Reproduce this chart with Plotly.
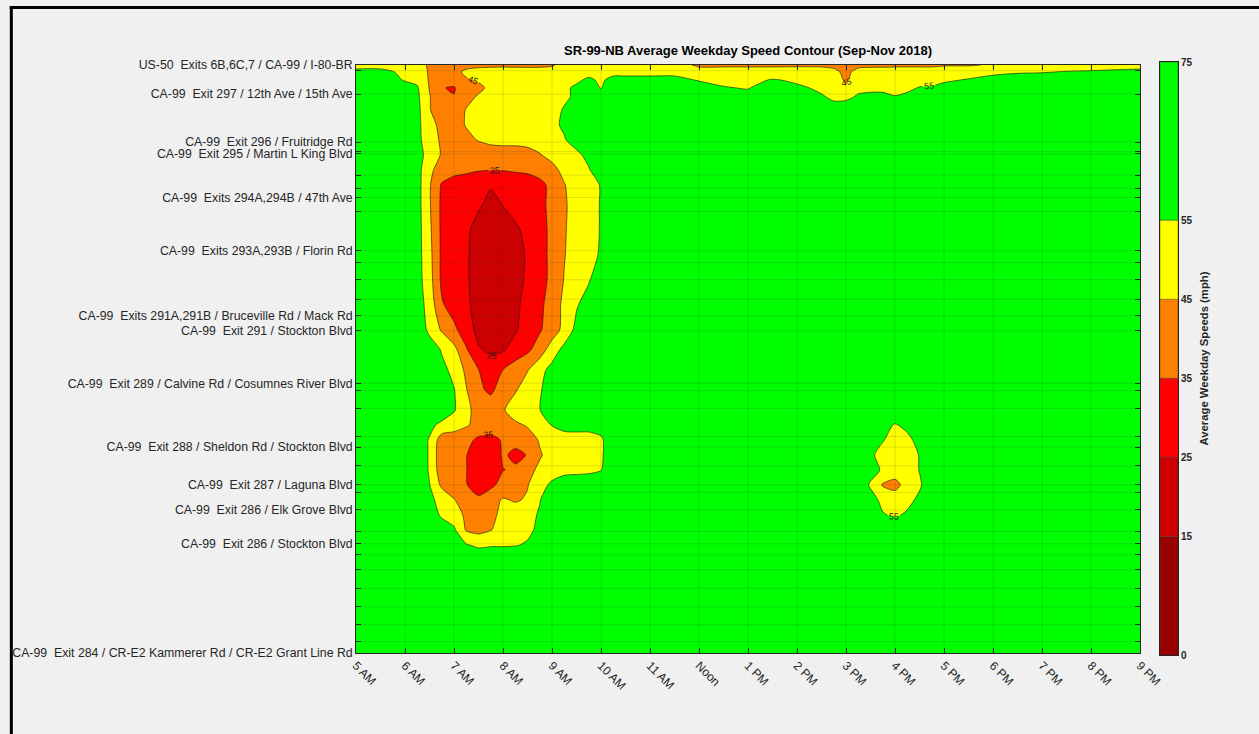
import plotly.graph_objects as go

# ---------------------------------------------------------------------------
# Data
# ---------------------------------------------------------------------------
# Time of day (decimal hours) of each column in the speed grid
hours = [5.0, 5.5, 6.0, 6.25, 6.5, 6.75, 7.0, 7.25, 7.5, 7.75,
         8.0, 8.25, 8.5, 8.75, 9.0, 9.25, 9.5, 9.75, 10.0, 10.25,
         10.5, 11.0, 11.5, 12.0, 12.5, 13.0, 13.5, 14.0, 14.5, 14.75,
         15.0, 15.25, 15.5, 15.75, 16.0, 16.25, 16.5, 16.75, 17.0, 17.5,
         18.0, 18.5, 19.0, 19.5, 20.0, 20.5, 21.0]

# Corridor distance (mi, measured from the south end) of each grid row, north to south
row_miles = [13.36, 13.20, 13.02, 12.84, 12.64, 12.34, 12.00, 11.66, 11.32, 10.98,
             10.64, 10.18, 9.61, 9.05, 8.48, 7.91, 7.34, 6.89, 6.43, 5.98,
             5.52, 5.18, 4.84, 4.50, 4.16, 3.82, 3.48, 3.14, 2.80, 2.45,
             2.11, 1.20, 0.00]

# Average weekday speed (mph); one row per entry of row_miles, one value per entry of hours
speed_mph = [
    [50, 50, 50, 48, 44, 42, 42, 42, 43, 43, 43, 43, 43, 43, 44, 48, 49, 49, 49, 50,
     50, 50, 50, 43, 43, 43, 43, 43, 43, 42, 40, 42, 43, 43, 43, 43, 43, 43, 44, 44,
     46, 49, 50, 51, 51, 51, 51],
    [59, 59, 52, 50, 44, 42, 42, 47, 48, 49, 50, 49, 49, 49, 49, 51, 52, 53, 53, 53,
     53, 53, 53, 50, 50, 50, 50, 51, 50, 48, 42, 49, 49, 49, 50, 50, 50, 50, 51, 52,
     53, 54, 54.5, 55.5, 56, 57, 58],
    [62, 62, 54, 53, 44, 40, 40, 44, 46, 48, 51, 52, 52, 52, 52, 53, 54, 56, 54, 57,
     57, 57, 57, 54.5, 53, 53, 55.5, 54, 52, 51, 43, 52, 52, 52, 52, 52, 53, 53.5, 54, 55.5,
     58, 60, 60, 61, 62, 63, 63],
    [64, 64, 60, 56, 44.5, 35.5, 34, 44, 43, 47, 51, 52, 52, 52, 52.5, 54, 56, 60, 54.5, 62,
     62, 62, 62, 58, 55.5, 54.5, 60, 56, 54, 53, 47, 54, 54, 54, 53.5, 54, 55.3, 55.5, 57, 60,
     62, 63, 64, 64, 64, 64, 64],
    [65, 65, 63, 57, 45.5, 38, 35.5, 42, 46, 50, 51, 52, 52, 52.5, 53, 54, 56, 62, 60, 64,
     65, 65, 65, 62, 60, 58, 63, 60, 55.5, 54, 54, 55.5, 56, 56, 55.2, 56, 60, 60, 62, 63,
     64, 65, 65, 65, 65, 65, 65],
    [65, 65, 63, 58, 45.5, 40, 40, 45.5, 49, 50, 51, 51, 51, 52, 53, 55.5, 61, 64, 65, 65,
     65, 65, 65, 65, 64, 63, 65, 64, 60, 57, 57.5, 60, 60, 60, 60, 62, 64, 65, 65, 65,
     65, 65, 65, 65, 65, 65, 65],
    [65, 65, 64, 57, 50, 41, 42, 45.5, 48, 49, 49, 50, 50, 51, 53.5, 56, 60, 64, 65, 65,
     65, 65, 65, 65, 65, 65, 65, 65, 64, 63, 63, 64, 64, 64, 64, 65, 65, 65, 65, 65,
     65, 65, 65, 65, 65, 65, 65],
    [65, 65, 64, 57, 51, 43, 42, 43, 45.5, 47, 47, 47, 47, 49, 52, 54.5, 58, 63, 65, 65,
     65, 65, 65, 65, 65, 65, 65, 65, 65, 65, 65, 65, 65, 65, 65, 65, 65, 65, 65, 65,
     65, 65, 65, 65, 65, 65, 65],
    [65, 65, 64, 58, 52, 44, 41, 40, 40, 41, 42, 42, 43, 44.5, 48, 51, 53.5, 57, 63, 65,
     65, 65, 65, 65, 65, 65, 65, 65, 65, 65, 65, 65, 65, 65, 65, 65, 65, 65, 65, 65,
     65, 65, 65, 65, 65, 65, 65],
    [65, 65, 64, 59, 47, 41, 38, 36.5, 35.5, 35.5, 35.5, 36, 36.5, 38, 42, 48, 52, 54.5, 60, 64,
     65, 65, 65, 65, 65, 65, 65, 65, 65, 65, 65, 65, 65, 65, 65, 65, 65, 65, 65, 65,
     65, 65, 65, 65, 65, 65, 65],
    [65, 65, 64, 59, 46, 34, 31, 31, 30, 26, 28, 30, 31, 33, 37, 44.5, 50, 52, 55.5, 63,
     65, 65, 65, 65, 65, 65, 65, 65, 65, 65, 65, 65, 65, 65, 65, 65, 65, 65, 65, 65,
     65, 65, 65, 65, 65, 65, 65],
    [65, 65, 64, 59, 46, 33, 30, 29, 26.5, 22, 25.3, 29, 31, 33, 37, 43.5, 50, 52, 55.5, 63,
     65, 65, 65, 65, 65, 65, 65, 65, 65, 65, 65, 65, 65, 65, 65, 65, 65, 65, 65, 65,
     65, 65, 65, 65, 65, 65, 65],
    [65, 65, 64, 59, 47, 33, 29, 27, 21, 18, 18, 23, 28, 32, 37, 44, 50, 52, 55.5, 63,
     65, 65, 65, 65, 65, 65, 65, 65, 65, 65, 65, 65, 65, 65, 65, 65, 65, 65, 65, 65,
     65, 65, 65, 65, 65, 65, 65],
    [65, 65, 64, 59, 48, 33, 29, 26.5, 20, 17, 16, 20, 26.5, 32, 37, 44.5, 50, 52, 56, 63,
     65, 65, 65, 65, 65, 65, 65, 65, 65, 65, 65, 65, 65, 65, 65, 65, 65, 65, 65, 65,
     65, 65, 65, 65, 65, 65, 65],
    [65, 65, 64, 59, 49, 33, 30, 26.5, 20, 18, 18, 21, 27, 32, 37, 45.5, 51, 54, 62, 64,
     65, 65, 65, 65, 65, 65, 65, 65, 65, 65, 65, 65, 65, 65, 65, 65, 65, 65, 65, 65,
     65, 65, 65, 65, 65, 65, 65],
    [65, 65, 64, 60, 51, 36, 31, 27, 21, 19, 20, 23, 28, 33, 39, 47.5, 54, 60, 64, 65,
     65, 65, 65, 65, 65, 65, 65, 65, 65, 65, 65, 65, 65, 65, 65, 65, 65, 65, 65, 65,
     65, 65, 65, 65, 65, 65, 65],
    [65, 65, 65, 64, 52, 44, 37, 30, 22, 20, 21, 24, 29, 34, 40, 48, 58, 63, 65, 65,
     65, 65, 65, 65, 65, 65, 65, 65, 65, 65, 65, 65, 65, 65, 65, 65, 65, 65, 65, 65,
     65, 65, 65, 65, 65, 65, 65],
    [65, 65, 65, 65, 62, 54, 48, 36, 26, 23, 24, 29, 33, 40, 50, 58, 63, 65, 65, 65,
     65, 65, 65, 65, 65, 65, 65, 65, 65, 65, 65, 65, 65, 65, 65, 65, 65, 65, 65, 65,
     65, 65, 65, 65, 65, 65, 65],
    [65, 65, 65, 65, 64, 58, 52, 43, 35.2, 29, 35.2, 40, 44.5, 52, 58, 63, 65, 65, 65, 65,
     65, 65, 65, 65, 65, 65, 65, 65, 65, 65, 65, 65, 65, 65, 65, 65, 65, 65, 65, 65,
     65, 65, 65, 65, 65, 65, 65],
    [65, 65, 65, 65, 64, 63, 55.5, 45.5, 37, 33, 40, 44, 50, 54, 60, 64, 65, 65, 65, 65,
     65, 65, 65, 65, 65, 65, 65, 65, 65, 65, 65, 65, 65, 65, 65, 65, 65, 65, 65, 65,
     65, 65, 65, 65, 65, 65, 65],
    [65, 65, 65, 65, 65, 63, 56, 47, 42, 41, 44, 50, 53, 54.8, 60, 63, 65, 65, 65, 65,
     65, 65, 65, 65, 65, 65, 65, 65, 65, 65, 65, 65, 65, 63, 60, 63, 65, 65, 65, 65,
     65, 65, 65, 65, 65, 65, 65],
    [65, 65, 65, 63, 58, 52, 49, 46, 42, 40, 41, 43, 46, 52, 55.3, 58, 58.5, 58.5, 59, 63,
     65, 65, 65, 65, 65, 65, 65, 65, 65, 65, 65, 65, 62, 57, 54.5, 56.5, 62, 65, 65, 65,
     65, 65, 65, 65, 65, 65, 65],
    [65, 65, 65, 62, 54, 40, 40, 38, 33, 32, 36, 37, 40, 46, 50, 51, 51, 51, 53.5, 62,
     65, 65, 65, 65, 65, 65, 65, 65, 65, 65, 65, 64, 59, 55.5, 52, 53.5, 57, 62, 65, 65,
     65, 65, 65, 65, 65, 65, 65],
    [65, 65, 65, 62, 54, 38, 37, 35.5, 28, 29, 36, 33.5, 35.3, 44, 49, 50, 50, 51, 53.5, 62,
     65, 65, 65, 65, 65, 65, 65, 65, 65, 65, 65, 63, 56.5, 52, 51, 52, 55.3, 62, 65, 65,
     65, 65, 65, 65, 65, 65, 65],
    [65, 65, 65, 62, 54, 39, 38, 35.3, 29, 29, 34.8, 36, 42, 47, 50, 51, 51, 52, 54.7, 62,
     65, 65, 65, 65, 65, 65, 65, 65, 65, 65, 65, 64, 58, 54, 50, 51, 55.3, 62, 65, 65,
     65, 65, 65, 65, 65, 65, 65],
    [65, 65, 65, 63, 55.2, 43, 39, 35.5, 30, 33, 38, 42, 44.5, 51, 57, 62, 64, 64, 64, 64,
     65, 65, 65, 65, 65, 65, 65, 65, 65, 65, 65, 60, 54, 44, 42, 49, 54, 60, 65, 65,
     65, 65, 65, 65, 65, 65, 65],
    [65, 65, 65, 64, 57, 52, 45.5, 40, 37, 41, 46, 44, 46, 54.5, 62, 64, 65, 65, 65, 65,
     65, 65, 65, 65, 65, 65, 65, 65, 65, 65, 65, 64, 58, 53, 50, 53, 56.5, 62, 65, 65,
     65, 65, 65, 65, 65, 65, 65],
    [65, 65, 65, 65, 62, 53, 50, 43, 40, 43, 47, 50, 52, 56, 62, 65, 65, 65, 65, 65,
     65, 65, 65, 65, 65, 65, 65, 65, 65, 65, 65, 65, 60, 55.5, 54, 56, 62, 65, 65, 65,
     65, 65, 65, 65, 65, 65, 65],
    [65, 65, 65, 65, 65, 62, 56.5, 44, 42, 44.5, 49, 51, 53, 57, 62, 65, 65, 65, 65, 65,
     65, 65, 65, 65, 65, 65, 65, 65, 65, 65, 65, 65, 64, 62, 61, 62, 64, 65, 65, 65,
     65, 65, 65, 65, 65, 65, 65],
    [65, 65, 65, 65, 65, 63, 60, 56, 53, 54, 54, 54.5, 56, 60, 64, 65, 65, 65, 65, 65,
     65, 65, 65, 65, 65, 65, 65, 65, 65, 65, 65, 65, 65, 65, 65, 65, 65, 65, 65, 65,
     65, 65, 65, 65, 65, 65, 65],
    [65, 65, 65, 65, 65, 65, 65, 64, 64, 64, 64, 64, 65, 65, 65, 65, 65, 65, 65, 65,
     65, 65, 65, 65, 65, 65, 65, 65, 65, 65, 65, 65, 65, 65, 65, 65, 65, 65, 65, 65,
     65, 65, 65, 65, 65, 65, 65],
    [65, 65, 65, 65, 65, 65, 65, 65, 65, 65, 65, 65, 65, 65, 65, 65, 65, 65, 65, 65,
     65, 65, 65, 65, 65, 65, 65, 65, 65, 65, 65, 65, 65, 65, 65, 65, 65, 65, 65, 65,
     65, 65, 65, 65, 65, 65, 65],
    [65, 65, 65, 65, 65, 65, 65, 65, 65, 65, 65, 65, 65, 65, 65, 65, 65, 65, 65, 65,
     65, 65, 65, 65, 65, 65, 65, 65, 65, 65, 65, 65, 65, 65, 65, 65, 65, 65, 65, 65,
     65, 65, 65, 65, 65, 65, 65],
]

# Hour ticks along the time axis
hour_ticks = [5, 6, 7, 8, 9, 10, 11, 12, 13, 14, 15, 16, 17, 18, 19, 20, 21]
hour_labels = ["5 AM", "6 AM", "7 AM", "8 AM", "9 AM", "10 AM", "11 AM", "Noon",
               "1 PM", "2 PM", "3 PM", "4 PM", "5 PM", "6 PM", "7 PM", "8 PM", "9 PM"]

# Named interchanges and their corridor distance (mi)
exit_miles = [13.36, 12.70, 11.61, 11.34, 10.35, 9.14, 7.66, 7.32, 6.13, 4.68,
              3.82, 3.25, 2.48, 0.00]
exit_labels = [
    "US-50  Exits 6B,6C,7 / CA-99 / I-80-BR",
    "CA-99  Exit 297 / 12th Ave / 15th Ave",
    "CA-99  Exit 296 / Fruitridge Rd",
    "CA-99  Exit 295 / Martin L King Blvd",
    "CA-99  Exits 294A,294B / 47th Ave",
    "CA-99  Exits 293A,293B / Florin Rd",
    "CA-99  Exits 291A,291B / Bruceville Rd / Mack Rd",
    "CA-99  Exit 291 / Stockton Blvd",
    "CA-99  Exit 289 / Calvine Rd / Cosumnes River Blvd",
    "CA-99  Exit 288 / Sheldon Rd / Stockton Blvd",
    "CA-99  Exit 287 / Laguna Blvd",
    "CA-99  Exit 286 / Elk Grove Blvd",
    "CA-99  Exit 286 / Stockton Blvd",
    "CA-99  Exit 284 / CR-E2 Kammerer Rd / CR-E2 Grant Line Rd",
]

# Detector stations without a named interchange (mi)
station_miles = [13.23, 11.39, 10.86, 10.56, 10.03, 8.87, 8.48, 8.04, 5.96, 5.56,
                 4.92, 4.25, 3.65, 2.76, 2.23, 1.89, 1.47, 1.05, 0.64, 0.26]

# Speed bands (mph) and their fill colours
band_edges = [0, 15, 25, 35, 45, 55, 75]
band_colors = ["#990000", "#CC0000", "#FF0000", "#FF8000", "#FFFF00", "#00FF00"]

# ---------------------------------------------------------------------------
# Figure geometry
# ---------------------------------------------------------------------------
W, H = 1259, 734
M_L, M_R, M_T, M_B = 354, 81, 62, 79
FONT = "Liberation Sans, Arial, Helvetica, sans-serif"
INK = "#262626"

plot_w = W - M_L - M_R
plot_h = H - M_T - M_B


def px_to_paper_x(px):
    return (px - M_L) / plot_w


def px_to_paper_y(py):
    return (H - M_B - py) / plot_h


main_x_domain = [0.0, px_to_paper_x(1140)]
main_y_domain = [px_to_paper_y(653), px_to_paper_y(65)]
bar_x_domain = [px_to_paper_x(1160), 1.0]

# ---------------------------------------------------------------------------
# Contour of speeds
# ---------------------------------------------------------------------------
levels = band_edges[1:-1]
lvl_step = levels[1] - levels[0]
lo = levels[0] - lvl_step / 2
hi = levels[-1] + lvl_step / 2
n_bands = len(band_colors)

# Discrete colour scale: each band's colour is sampled at the band centre
scale = []
for i, c in enumerate(band_colors):
    a = 0.0 if i == 0 else (i - 0.5) / (n_bands - 1)
    b = 1.0 if i == n_bands - 1 else (i + 0.5) / (n_bands - 1)
    scale.append([a, c])
    scale.append([b, c])

contour = go.Contour(
    x=hours,
    y=row_miles[::-1],
    z=speed_mph[::-1],
    autocontour=False,
    contours=dict(
        start=levels[0], end=levels[-1], size=lvl_step,
        coloring="fill", showlabels=True,
        labelfont=dict(family=FONT, size=9, color="#1a1a1a"),
    ),
    colorscale=scale,
    zmin=lo, zmax=hi,
    line=dict(color="rgba(25,25,25,0.9)", width=0.7, smoothing=0.7),
    showscale=False,
    hoverinfo="skip",
    xaxis="x", yaxis="y",
)

# Colour key drawn as stacked bands on its own axis
key = go.Bar(
    x=[0] * n_bands,
    y=[band_edges[i + 1] - band_edges[i] for i in range(n_bands)],
    base=band_edges[:-1],
    width=1,
    marker=dict(color=band_colors, line=dict(color="rgba(40,40,40,0.6)", width=0.6)),
    hoverinfo="skip",
    showlegend=False,
    xaxis="x2", yaxis="y2",
)

fig = go.Figure([contour, key])

# Grid lines on top of the filled contours
grid = dict(color="rgba(38,38,38,0.15)", width=1)
shapes = []
for h in hour_ticks[1:-1]:
    shapes.append(dict(type="line", xref="x", yref="y domain", x0=h, x1=h, y0=0, y1=1,
                       line=grid, layer="above"))
for m in exit_miles + station_miles:
    if 0 < m < row_miles[0]:
        shapes.append(dict(type="line", xref="x domain", yref="y", x0=0, x1=1, y0=m, y1=m,
                           line=grid, layer="above"))

# Figure frame along the left and top edges
fx = px_to_paper_x(8.5)
fy = px_to_paper_y(7.5)
frame = dict(color="black", width=3)
shapes.append(dict(type="line", xref="paper", yref="paper", x0=fx, x1=fx,
                   y0=fy, y1=px_to_paper_y(H + 5), line=frame))
shapes.append(dict(type="line", xref="paper", yref="paper", x0=fx - 0.002, x1=px_to_paper_x(W + 5),
                   y0=fy, y1=fy, line=frame))

y_ticks = exit_miles + station_miles
y_text = [s.replace("  ", "\u00a0 ") for s in exit_labels] + [""] * len(station_miles)

fig.update_layout(
    width=W, height=H, autosize=False,
    margin=dict(l=M_L, r=M_R, t=M_T, b=M_B, pad=0),
    paper_bgcolor="#F0F0F0", plot_bgcolor="#F0F0F0",
    font=dict(family=FONT, color=INK, size=12),
    barmode="overlay",
    showlegend=False,
    shapes=shapes,
    xaxis=dict(
        domain=main_x_domain, range=[hours[0], hours[-1]],
        tickmode="array", tickvals=hour_ticks, ticktext=hour_labels,
        tickangle=45, tickfont=dict(family=FONT, size=12, color=INK),
        ticks="inside", ticklen=5, tickcolor=INK, tickwidth=0.8,
        showline=True, mirror="ticks", linecolor=INK, linewidth=0.8,
        showgrid=False, zeroline=False, layer="above traces",
        anchor="y",
    ),
    yaxis=dict(
        domain=main_y_domain, range=[0, row_miles[0]],
        tickmode="array", tickvals=y_ticks, ticktext=y_text,
        tickfont=dict(family=FONT, size=12.3, color=INK),
        ticks="inside", ticklen=5, tickcolor=INK, tickwidth=0.8,
        showline=True, mirror="ticks", linecolor=INK, linewidth=0.8,
        showgrid=False, zeroline=False, layer="above traces",
        anchor="x",
    ),
    xaxis2=dict(
        domain=bar_x_domain, range=[-0.5, 0.5], anchor="y2",
        showticklabels=False, ticks="", showgrid=False, zeroline=False,
        showline=True, mirror=True, linecolor=INK, linewidth=0.8,
    ),
    yaxis2=dict(
        domain=[0, 1], range=[band_edges[0], band_edges[-1]], anchor="x2", side="right",
        tickmode="array", tickvals=band_edges,
        ticktext=["<b>%d</b>" % v for v in band_edges],
        tickfont=dict(family=FONT, size=10, color=INK),
        ticks="", showgrid=False, zeroline=False,
        showline=True, mirror=True, linecolor=INK, linewidth=0.8,
        title=dict(text="<b>Average Weekday Speeds (mph)</b>",
                   font=dict(family=FONT, size=11.3, color=INK), standoff=8),
    ),
    annotations=[dict(
        text="<b>SR-99-NB Average Weekday Speed Contour (Sep-Nov 2018)</b>",
        xref="x domain", yref="y domain", x=0.5, y=1, xanchor="center", yanchor="bottom",
        yshift=5, showarrow=False, font=dict(family=FONT, size=13, color="#000000"),
    )],
)

fig.write_html("out.html")
